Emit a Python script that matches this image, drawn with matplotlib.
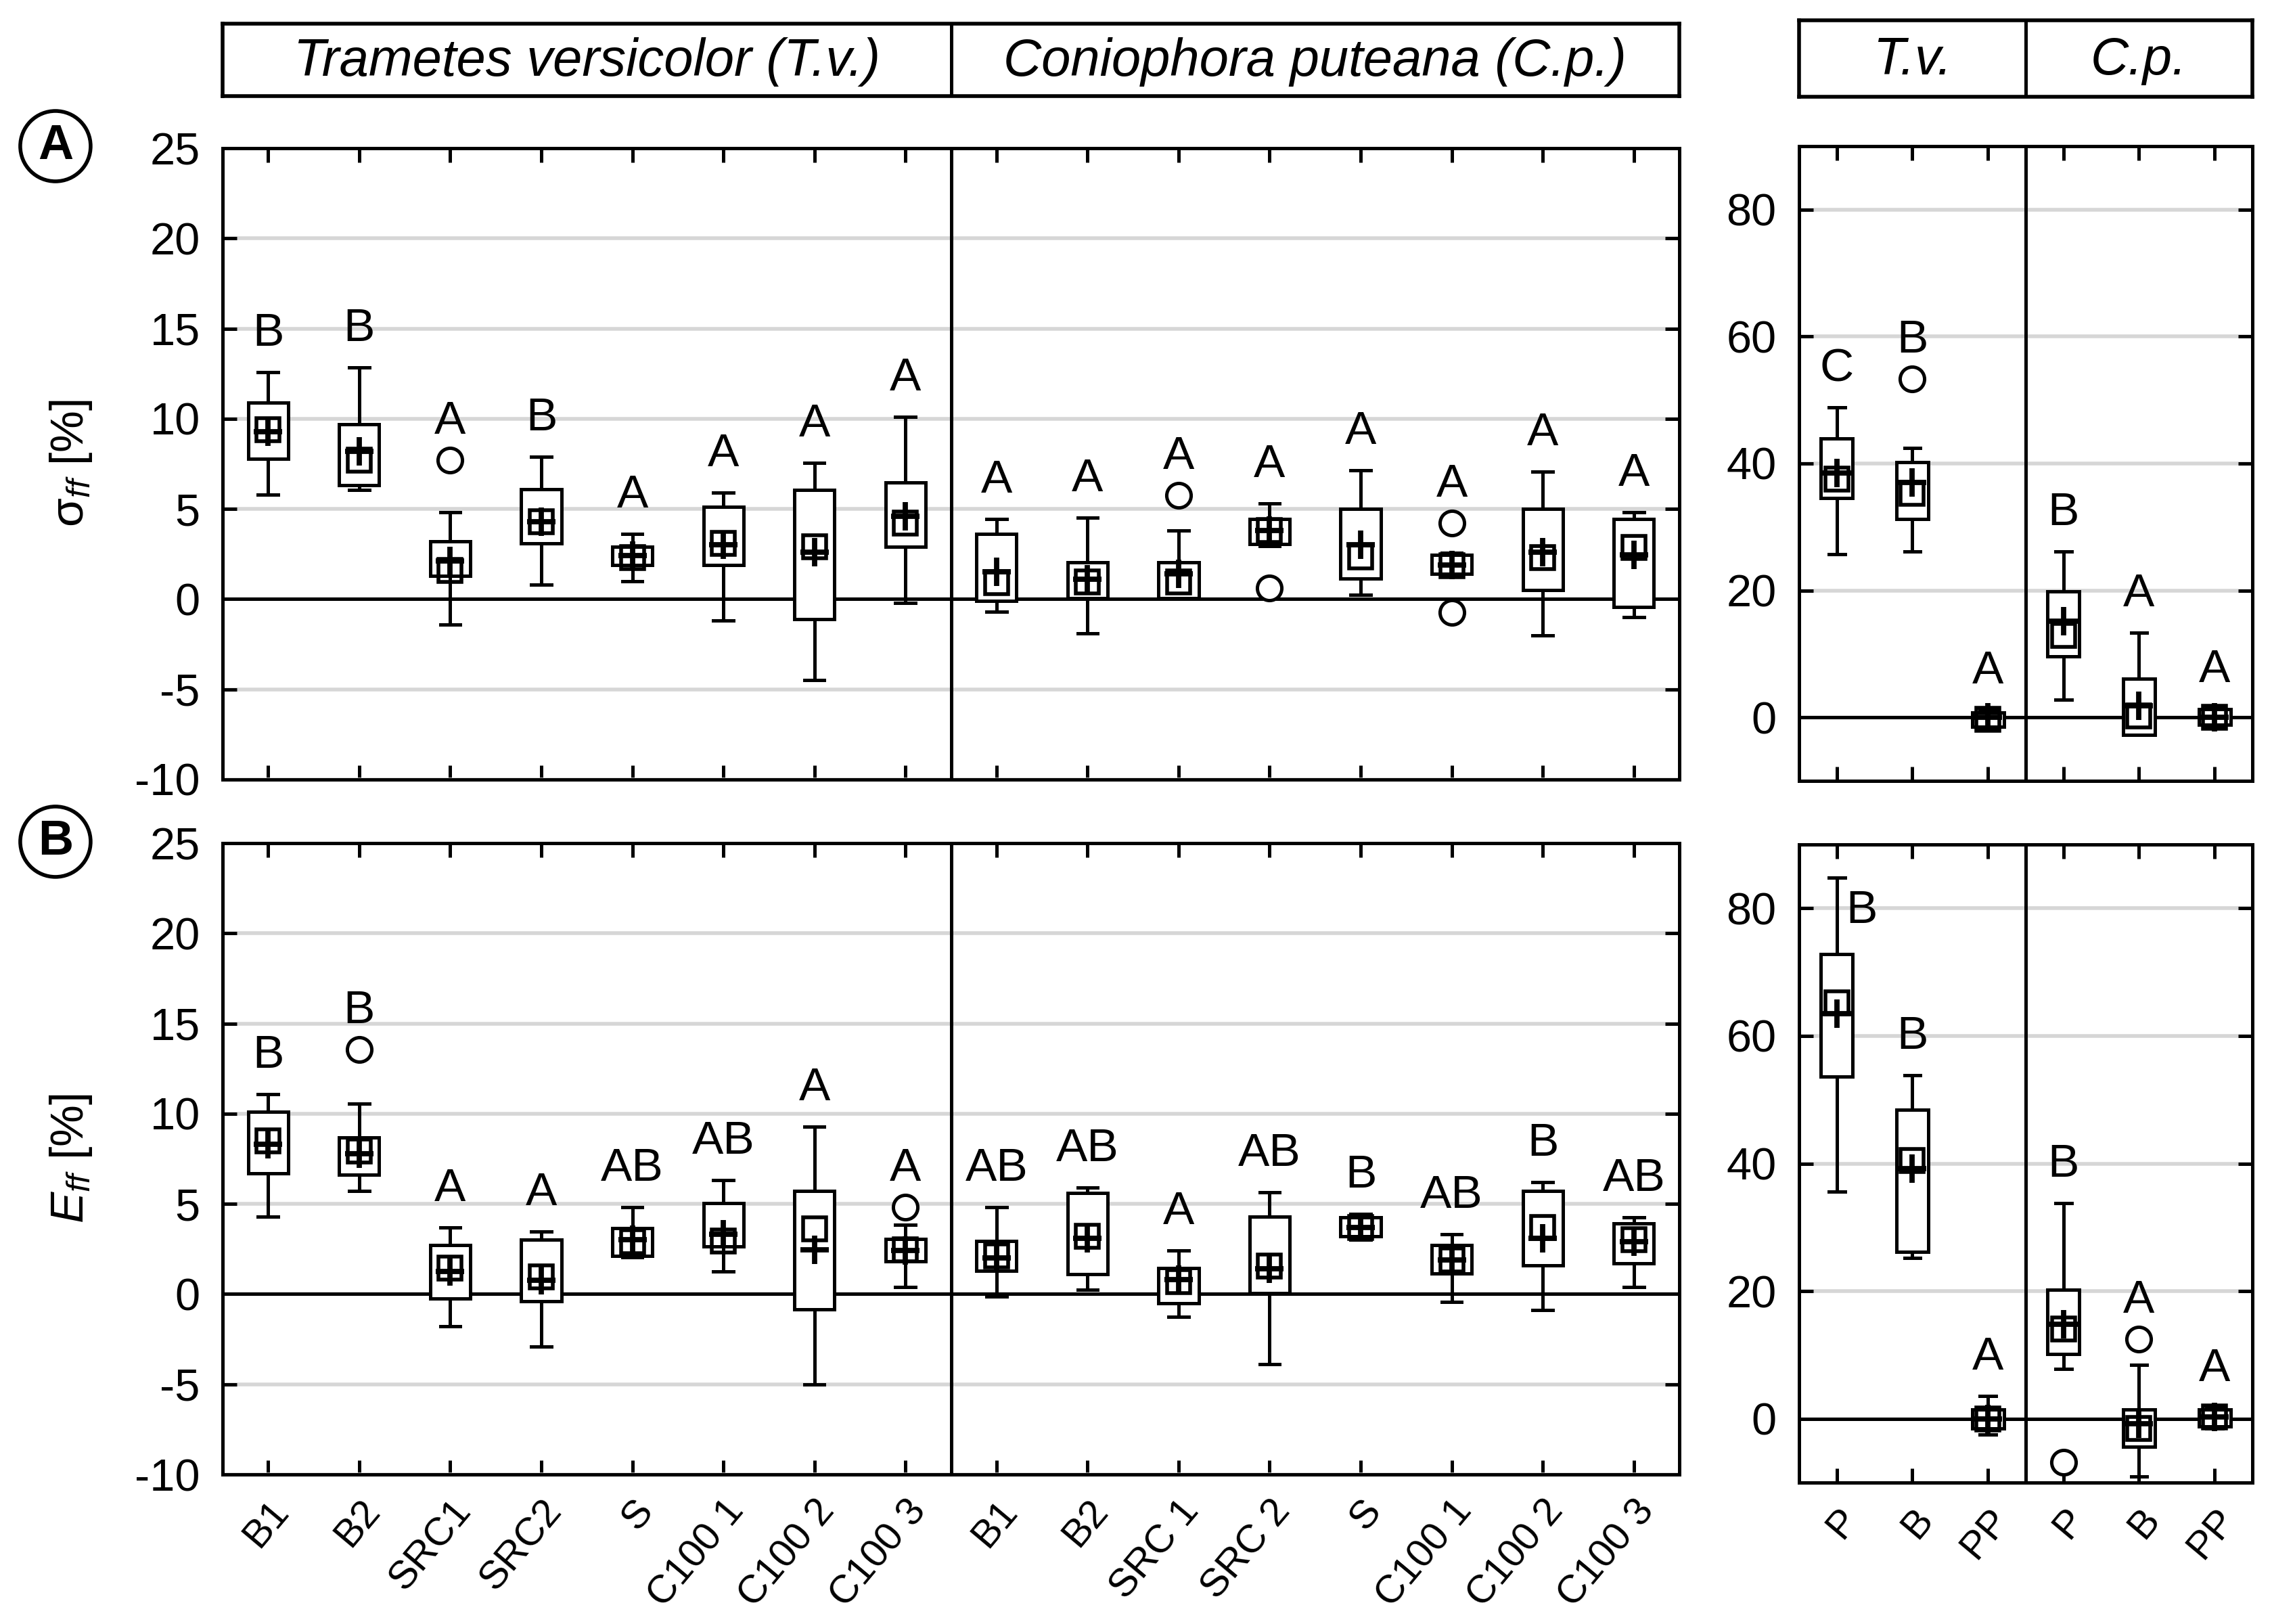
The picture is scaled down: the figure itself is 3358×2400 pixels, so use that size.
import matplotlib.pyplot as plt
from matplotlib.patches import Ellipse

plt.rcParams['font.family'] = ['Liberation Sans', 'DejaVu Sans']
plt.rcParams['mathtext.fontset'] = 'custom'
plt.rcParams['mathtext.rm'] = 'Liberation Sans'
plt.rcParams['mathtext.it'] = 'Liberation Sans:italic'
plt.rcParams['axes.unicode_minus'] = False

# ------------------------------------------------------------
# categories
# ------------------------------------------------------------
tv_labels = ['B1', 'B2', 'SRC1', 'SRC2', 'S', 'C100 1', 'C100 2', 'C100 3']
cp_labels = ['B1', 'B2', 'SRC 1', 'SRC 2', 'S', 'C100 1', 'C100 2', 'C100 3']
right_labels = ['P', 'B', 'PP', 'P', 'B', 'PP']

# ------------------------------------------------------------
# panel A, left: sigma_ff (T.v. then C.p.)
# ------------------------------------------------------------
sig_wlo = [5.8, 6.05, -1.4, 0.8, 1.0, -1.2, -4.5, -0.2,
           -0.7, -1.9, 0.0, 2.95, 0.25, 1.3, -2.0, -1.0]
sig_q1 = [7.8, 6.3, 1.3, 3.1, 1.9, 1.9, -1.1, 2.9,
          -0.1, 0.05, 0.05, 3.05, 1.15, 1.4, 0.5, -0.45]
sig_med = [9.4, 7.7, 1.6, 4.3, 2.3, 3.1, 2.9, 4.2,
           0.9, 0.95, 0.95, 3.8, 2.35, 1.85, 2.3, 2.85]
sig_q3 = [10.9, 9.7, 3.2, 6.1, 2.9, 5.1, 6.05, 6.45,
          3.6, 2.05, 2.05, 4.45, 5.0, 2.45, 5.0, 4.45]
sig_whi = [12.6, 12.85, 4.8, 7.9, 3.6, 5.9, 7.55, 10.1,
           4.45, 4.5, 3.8, 5.3, 7.15, 2.55, 7.05, 4.8]
sig_mean = [9.3, 8.2, 2.1, 4.3, 2.4, 3.0, 2.6, 4.6,
            1.5, 1.1, 1.4, 3.8, 3.0, 1.9, 2.6, 2.45]
sig_fliers = [[], [], [7.7], [], [], [], [], [],
              [], [], [5.75], [0.6], [], [4.2, -0.75], [], []]
sig_letters = ['B', 'B', 'A', 'B', 'A', 'A', 'A', 'A',
               'A', 'A', 'A', 'A', 'A', 'A', 'A', 'A']

# ------------------------------------------------------------
# panel B, left: E_ff
# ------------------------------------------------------------
eff_wlo = [4.3, 5.7, -1.8, -2.9, 2.05, 1.25, -5.0, 0.4,
           -0.15, 0.25, -1.25, -3.9, 3.0, -0.45, -0.9, 0.4]
eff_q1 = [6.7, 6.6, -0.25, -0.4, 2.1, 2.65, -0.85, 1.8,
          1.3, 1.1, -0.5, 0.05, 3.2, 1.15, 1.6, 1.7]
eff_med = [8.5, 7.95, 1.45, 0.95, 2.9, 2.95, 3.6, 2.45,
           2.1, 3.2, 0.7, 1.55, 3.7, 1.9, 3.7, 3.0]
eff_q3 = [10.1, 8.7, 2.7, 3.0, 3.65, 5.05, 5.7, 3.05,
          2.95, 5.6, 1.45, 4.3, 4.25, 2.7, 5.7, 3.9]
eff_whi = [11.1, 10.55, 3.7, 3.45, 4.8, 6.3, 9.3, 3.85,
           4.8, 5.9, 2.4, 5.65, 4.45, 3.3, 6.2, 4.25]
eff_mean = [8.3, 7.8, 1.25, 0.75, 3.0, 3.3, 2.45, 2.4,
            2.0, 3.1, 0.8, 1.4, 3.7, 1.9, 3.1, 2.9]
eff_fliers = [[], [13.55], [], [], [], [], [], [4.8],
              [], [], [], [], [], [], [], []]
eff_letters = ['B', 'B', 'A', 'A', 'AB', 'AB', 'A', 'A',
               'AB', 'AB', 'A', 'AB', 'B', 'AB', 'B', 'AB']

# ------------------------------------------------------------
# panel A, right: sigma_ff (P, B, PP for T.v. and C.p.)
# ------------------------------------------------------------
sigr_wlo = [25.7, 26.1, -2.0, 2.8, -2.8, -1.4]
sigr_q1 = [34.6, 31.3, -1.5, 9.6, -2.7, -1.2]
sigr_med = [37.5, 35.3, -0.3, 12.9, 0.2, 0.0]
sigr_q3 = [43.9, 40.2, 0.8, 19.8, 6.1, 1.3]
sigr_whi = [48.8, 42.4, 1.2, 26.1, 13.3, 1.4]
sigr_mean = [38.5, 37.0, 0.0, 15.2, 1.8, 0.0]
sigr_fliers = [[], [53.3], [], [], [], []]
sigr_letters = ['C', 'B', 'A', 'B', 'A', 'A']

# ------------------------------------------------------------
# panel B, right: E_ff
# ------------------------------------------------------------
effr_wlo = [35.6, 25.2, -2.5, 7.8, -9.0, -1.5]
effr_q1 = [53.6, 26.2, -1.5, 10.1, -4.4, -1.2]
effr_med = [65.2, 40.5, 0.0, 14.1, -1.5, 0.3]
effr_q3 = [72.8, 48.4, 1.5, 20.2, 1.4, 1.5]
effr_whi = [84.8, 53.8, 3.6, 33.8, 8.5, 1.8]
effr_mean = [63.5, 39.2, 0.0, 14.8, -0.8, 0.3]
effr_fliers = [[], [], [], [-6.8], [12.5], []]
effr_letters = ['B', 'B', 'A', 'B', 'A', 'A']


LW = 1.8
FS = 24


def draw_panel(ax, wlo, q1, med, q3, whi, mean, fliers, letters,
               xlabels, ylim, yticks, width, show_x):
    n = len(med)
    pos = list(range(n))
    stats = []
    for i in range(n):
        stats.append(dict(med=med[i], q1=q1[i], q3=q3[i],
                          whislo=wlo[i], whishi=whi[i], fliers=fliers[i]))
    ax.bxp(stats, positions=pos, widths=width, capwidths=width / 2,
           patch_artist=True, showmeans=False, manage_ticks=False,
           boxprops=dict(facecolor='white', edgecolor='black', linewidth=LW),
           whiskerprops=dict(color='black', linewidth=LW),
           capprops=dict(color='black', linewidth=LW),
           medianprops=dict(linewidth=0),
           flierprops=dict(marker='o', markerfacecolor='white',
                           markeredgecolor='black', markersize=13,
                           markeredgewidth=LW),
           zorder=3)
    # median = small square, mean = plus
    ax.plot(pos, med, 's', mfc='none', mec='black', ms=12, mew=2.0,
            ls='none', zorder=4)
    ax.plot(pos, mean, '+', color='black', ms=15, mew=2.8,
            ls='none', zorder=5)

    ax.set_xlim(-0.5, n - 0.5)
    ax.set_ylim(*ylim)
    ax.set_yticks(yticks)
    ax.set_xticks(pos)
    if show_x:
        ax.set_xticklabels(xlabels, rotation=50, ha='right',
                           rotation_mode='anchor', fontsize=FS - 3)
    else:
        ax.set_xticklabels([])
    ax.tick_params(direction='in', top=True, right=True, length=7.5,
                   width=LW, labelsize=FS, pad=12)
    ax.tick_params(axis='x', labelsize=FS - 3, pad=10)
    ax.yaxis.grid(True, color='#d6d6d6', linewidth=2)
    ax.set_axisbelow(True)
    ax.axhline(0, color='black', linewidth=LW, zorder=2)
    ax.axvline(n / 2 - 0.5, color='black', linewidth=LW, zorder=2)
    for s in ax.spines.values():
        s.set_linewidth(LW)

    # group letters above the highest point
    yspan = ylim[1] - ylim[0]
    for i in range(n):
        top = max([whi[i]] + list(fliers[i]))
        if (ylim[1] - top) / yspan < 0.1:
            ax.annotate(letters[i], (i, top), xytext=(5, -6),
                        textcoords='offset points', ha='left', va='top',
                        fontsize=FS + 1, zorder=6)
        else:
            ax.annotate(letters[i], (i, top), xytext=(0, 9),
                        textcoords='offset points', ha='center',
                        va='bottom', fontsize=FS + 1, zorder=6)


def draw_header(fig, rect, names):
    hx = fig.add_axes(rect)
    hx.set_xlim(0, 2)
    hx.set_ylim(0, 1)
    hx.set_xticks([])
    hx.set_yticks([])
    hx.axvline(1, color='black', linewidth=LW)
    for s in hx.spines.values():
        s.set_linewidth(2.0)
    for k, name in enumerate(names):
        hx.text(k + 0.5, 0.47, name, ha='center', va='center',
                fontsize=FS + 4, fontstyle='italic')


fig = plt.figure(figsize=(16.79, 12), dpi=200)

axA = fig.add_axes([0.09798, 0.52, 0.64116, 0.38875])
axB = fig.add_axes([0.09798, 0.092083, 0.64116, 0.38875])
axAr = fig.add_axes([0.79184, 0.519167, 0.19952, 0.390833])
axBr = fig.add_axes([0.79184, 0.087083, 0.19952, 0.392917])

left_ticks = list(range(-10, 26, 5))
right_ticks = [0, 20, 40, 60, 80]

draw_panel(axA, sig_wlo, sig_q1, sig_med, sig_q3, sig_whi, sig_mean,
           sig_fliers, sig_letters, tv_labels + cp_labels,
           (-10, 25), left_ticks, 0.44, False)
draw_panel(axB, eff_wlo, eff_q1, eff_med, eff_q3, eff_whi, eff_mean,
           eff_fliers, eff_letters, tv_labels + cp_labels,
           (-10, 25), left_ticks, 0.44, True)
draw_panel(axAr, sigr_wlo, sigr_q1, sigr_med, sigr_q3, sigr_whi, sigr_mean,
           sigr_fliers, sigr_letters, right_labels,
           (-10, 90), right_ticks, 0.42, False)
draw_panel(axBr, effr_wlo, effr_q1, effr_med, effr_q3, effr_whi, effr_mean,
           effr_fliers, effr_letters, right_labels,
           (-10, 90), right_ticks, 0.42, True)

draw_header(fig, [0.09798, 0.940833, 0.64116, 0.044583],
            ['Trametes versicolor (T.v.)', 'Coniophora puteana (C.p.)'])
draw_header(fig, [0.79184, 0.940417, 0.19952, 0.047083], ['T.v.', 'C.p.'])

# y labels
fig.text(0.0313, 0.7146, r'$\mathrm{\sigma}_{ff}$ [%]', rotation=90,
         ha='center', va='center', fontsize=FS + 1)
fig.text(0.0313, 0.2867, r'$E_{ff}$ [%]', rotation=90,
         ha='center', va='center', fontsize=FS + 1)

# circled panel letters
for cy, tag in [(0.91, 'A'), (0.4817, 'B')]:
    fig.patches.append(Ellipse((0.0244, cy), 104 / 3358, 104 / 2400,
                               transform=fig.transFigure, facecolor='none',
                               edgecolor='black', linewidth=2.0))
    fig.text(0.0244, cy, tag, ha='center', va='center', fontsize=FS + 2,
             fontweight='bold')

fig.savefig('out.png', dpi=200)
